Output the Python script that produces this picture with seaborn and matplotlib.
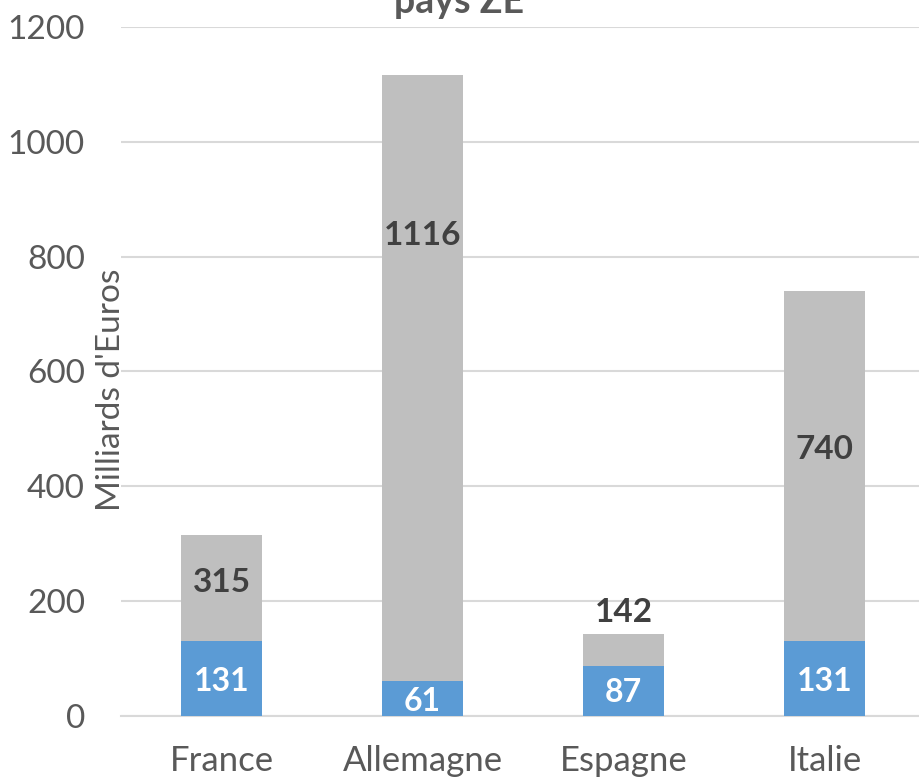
import matplotlib
matplotlib.use('Agg')
import matplotlib.pyplot as plt
import seaborn as sns
import pandas as pd

# Data
pays = ['France', 'Allemagne', 'Espagne', 'Italie']
total = [315, 1116, 142, 740]
partie = [131, 61, 87, 131]
# label heights (data units)
total_label_y = [233, 836, 181, 465]
partie_label_y = [60, 26, 41, 60]

sns.set_style('white')
plt.rcParams['font.family'] = ['Lato', 'DejaVu Sans']

df = pd.DataFrame({'pays': pays, 'total': total, 'partie': partie})

fig = plt.figure(figsize=(9.19, 7.82), dpi=100)
ax = fig.add_axes([0.1317, 0.0844, 0.8683, 0.8811])

sns.barplot(data=df, x='pays', y='total', color='#BFBFBF', width=0.4,
            saturation=1, linewidth=0, ax=ax, zorder=2)
sns.barplot(data=df, x='pays', y='partie', color='#5B9BD5', width=0.4,
            saturation=1, linewidth=0, ax=ax, zorder=3)

for i in range(len(pays)):
    ax.text(i, total_label_y[i], str(total[i]), ha='center', va='center',
            fontsize=24, fontweight='bold', color='#404040', zorder=4)
    ax.text(i, partie_label_y[i], str(partie[i]), ha='center', va='center',
            fontsize=23, fontweight='bold', color='white', zorder=4)

ax.set_ylim(0, 1200)
ax.set_xlim(-0.5, 3.47)
ax.set_yticks([0, 200, 400, 600, 800, 1000, 1200])
ax.yaxis.grid(True, color='#D9D9D9', linewidth=1.5, zorder=0)
ax.set_axisbelow(True)
for s in ['top', 'right', 'left']:
    ax.spines[s].set_visible(False)
ax.spines['bottom'].set_color('#D9D9D9')
ax.spines['bottom'].set_linewidth(1.5)
ax.tick_params(axis='y', length=0, pad=26, labelsize=24, labelcolor='#595959')
ax.tick_params(axis='x', length=0, pad=21, labelsize=25, labelcolor='#595959')
ax.set_xlabel('')
ax.set_ylabel('')

ax.text(-0.012, 0.473, "Milliards d'Euros", transform=ax.transAxes,
        rotation=90, ha='center', va='center', fontsize=24, color='#595959')

# title is cut by the top edge, as in the original
fig.text(0.5, 0.983, 'pays ZE', ha='center', va='baseline',
         fontsize=27, fontweight='bold', color='#595959')

fig.savefig('out.png', dpi=100)
